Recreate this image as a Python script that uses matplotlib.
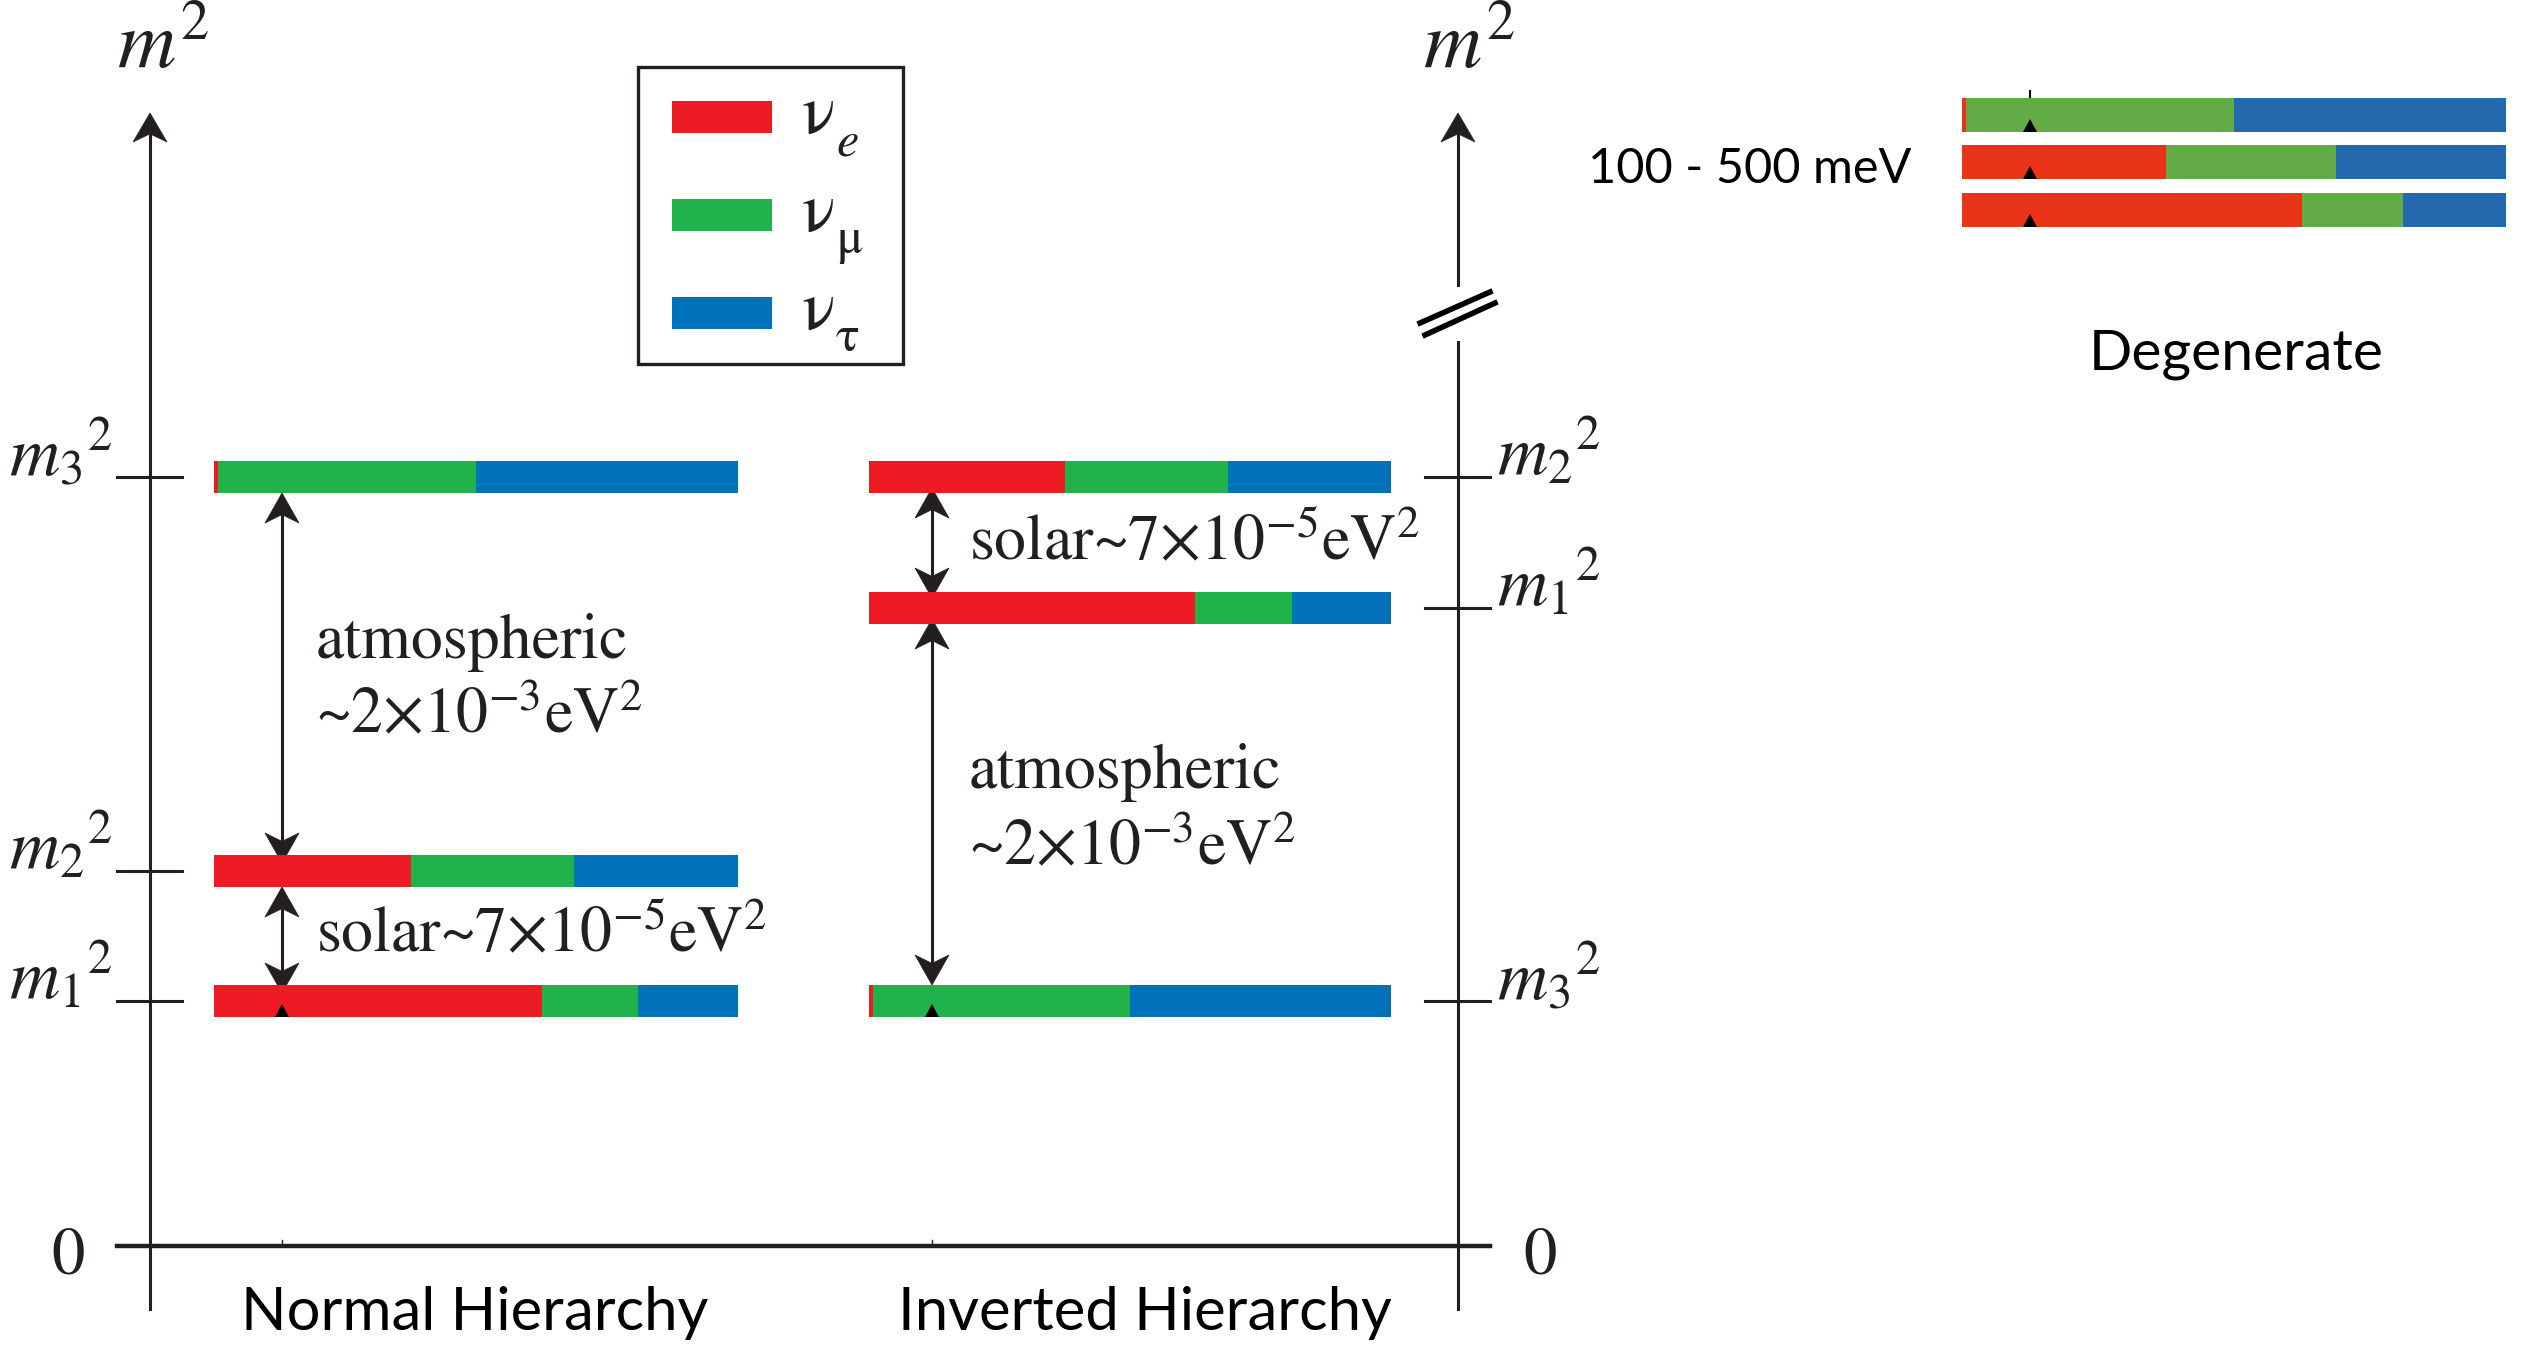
import matplotlib
matplotlib.use("Agg")
import matplotlib.pyplot as plt
from matplotlib.patches import Polygon, Rectangle

plt.rcParams['font.family'] = 'STIXGeneral'
plt.rcParams['mathtext.fontset'] = 'stix'

INK = '#231f20'
COLOURS = ['#ed1c24', '#22b24c', '#0072bc']
DEGEN_COLOURS = ['#e9341a', '#62ab47', '#2468ae']
FLAVOUR_SUBS = ['e', 'μ', 'τ']

# flavour content of each mass state, ordered m1, m2, m3
nu_e = [0.625, 0.375, 0.008]
nu_mu = [0.185, 0.312, 0.492]
nu_tau = [0.190, 0.313, 0.500]

# schematic m^2 heights of m1, m2, m3 for each ordering
normal_levels = [245, 375, 769]
inverted_levels = [638, 769, 245]
level_labels = [r'$m_1{}^2$', r'$m_2{}^2$', r'$m_3{}^2$']

BAR_H = 32


def draw_state(ax, i, y, x0, width, colours, h=BAR_H):
    left = x0
    for frac, c in zip([nu_e[i], nu_mu[i], nu_tau[i]], colours):
        ax.barh(y, frac * width, left=left, height=h, color=c, linewidth=0, zorder=3)
        left += frac * width


def head(ax, x, y, d, L=30, W=17, z=4):
    # stealth style head, tip at (x, y), d=+1 points up, -1 points down
    pts = [(x, y), (x - W, y - d * L), (x, y - d * L * 0.72), (x + W, y - d * L)]
    ax.add_patch(Polygon(pts, closed=True, fc=INK, ec=INK, lw=0.5, zorder=z))


def double_arrow(ax, x, y_lo, y_hi):
    ax.plot([x, x], [y_lo + 20, y_hi - 20], color=INK, lw=2.2, zorder=2)
    head(ax, x, y_hi, +1, z=2)
    head(ax, x, y_lo, -1, z=2)


def small_tri(ax, x, y, w=7, h=13):
    ax.add_patch(Polygon([(x - w, y), (x + w, y), (x, y + h)], closed=True,
                         fc='black', ec='none', zorder=5))


fig = plt.figure(figsize=(25.28, 13.45), dpi=100)
ax = fig.add_axes([0, 0, 1, 1])
ax.set_xlim(0, 2528)
ax.set_ylim(-99, 1246)
ax.axis('off')

# vertical m^2 axes
LX, RX = 150, 1458
ax.plot([LX, LX], [-63, 1113], color=INK, lw=2.2)
head(ax, LX, 1133, +1, L=29, W=17)
ax.plot([RX, RX], [-63, 904], color=INK, lw=2.2)
ax.plot([RX, RX], [961, 1113], color=INK, lw=2.2)
head(ax, RX, 1133, +1, L=29, W=17)
ax.plot([1420, 1490], [923, 954], color='black', lw=4)
ax.plot([1425, 1495], [911, 943], color='black', lw=4)

ax.text(117, 1178, r'$m^2$', fontsize=58, color=INK, ha='left', va='baseline')
ax.text(1423, 1178, r'$m^2$', fontsize=58, color=INK, ha='left', va='baseline')

# zero line
ax.plot([117, 1490], [0, 0], color=INK, lw=3.2)
ax.text(68, -12, '0', fontsize=48, color=INK, ha='center', va='center')
ax.text(1540, -12, '0', fontsize=48, color=INK, ha='center', va='center')

NH_X0, NH_W = 214, 524
IH_X0, IH_W = 869, 522
NH_AX, IH_AX = 282, 932

for i, y in enumerate(normal_levels):
    ax.plot([117, 182], [y, y], color=INK, lw=2.2)
    ax.text(113, y + 2, level_labels[i], fontsize=50, color=INK, ha='right', va='baseline')
    draw_state(ax, i, y, NH_X0, NH_W, COLOURS)

for i, y in enumerate(inverted_levels):
    ax.plot([1425, 1490], [y, y], color=INK, lw=2.2)
    ax.text(1497, y + 2, level_labels[i], fontsize=50, color=INK, ha='left', va='baseline')
    draw_state(ax, i, y, IH_X0, IH_W, COLOURS)

hb = BAR_H / 2
n1, n2, n3 = normal_levels
i1, i2, i3 = inverted_levels
double_arrow(ax, NH_AX, n2 + hb - 8, n3 - hb)
double_arrow(ax, NH_AX, n1 + hb - 8, n2 - hb)
double_arrow(ax, IH_AX, i1 + hb - 6, i2 - hb + 5)
double_arrow(ax, IH_AX, i3 + hb, i1 - hb + 5)
small_tri(ax, NH_AX, n1 - hb)
small_tri(ax, IH_AX, i3 - hb)
for x in (NH_AX, IH_AX):
    ax.plot([x, x], [0, 6], color=INK, lw=1)

txt = dict(fontsize=46, color=INK, ha='left', va='baseline')
ax.text(316, 588, 'atmospheric', **txt)
ax.text(316, 513, '~2×10$^{-3}$eV$^2$', **txt)
ax.text(316, 295, 'solar~7×10$^{-5}$eV$^2$', **txt)
ax.text(969, 687, 'solar~7×10$^{-5}$eV$^2$', **txt)
ax.text(969, 458, 'atmospheric', **txt)
ax.text(969, 381, '~2×10$^{-3}$eV$^2$', **txt)

ax.text(475, -84, 'Normal Hierarchy', fontsize=43, family='Lato', color='black',
        ha='center', va='baseline')
ax.text(1145, -84, 'Inverted Hierarchy', fontsize=43, family='Lato', color='black',
        ha='center', va='baseline')

# flavour legend
ax.add_patch(Rectangle((638, 882), 265, 297, fill=False, ec=INK, lw=2.4))
for k, y in enumerate([1129, 1031, 933]):
    ax.barh(y, 100, left=672, height=32, color=COLOURS[k], linewidth=0)
    ax.text(802, y - 16, 'ν', fontsize=50, color=INK, ha='left', va='baseline')
    ax.text(836, y - 38, FLAVOUR_SUBS[k], fontsize=36, color=INK, ha='left',
            va='baseline', style='italic' if k == 0 else 'normal')

# quasi-degenerate spectrum
DG_X0, DG_W, DG_H = 1962, 544, 34
degen_y = [1036, 1084, 1131]  # m1, m2, m3
for i, y in enumerate(degen_y):
    draw_state(ax, i, y, DG_X0, DG_W, DEGEN_COLOURS, h=DG_H)
    small_tri(ax, 2030, y - DG_H / 2)
ax.plot([2030, 2030], [degen_y[2] + DG_H / 2, degen_y[2] + DG_H / 2 + 7], color='black', lw=1.5)
ax.text(1588, 1063, '100 - 500 meV', fontsize=35, family='Lato', color='black',
        ha='left', va='baseline')
ax.text(2236, 876, 'Degenerate', fontsize=41, family='Lato', color='black',
        ha='center', va='baseline')

fig.savefig('out.png', dpi=100)
